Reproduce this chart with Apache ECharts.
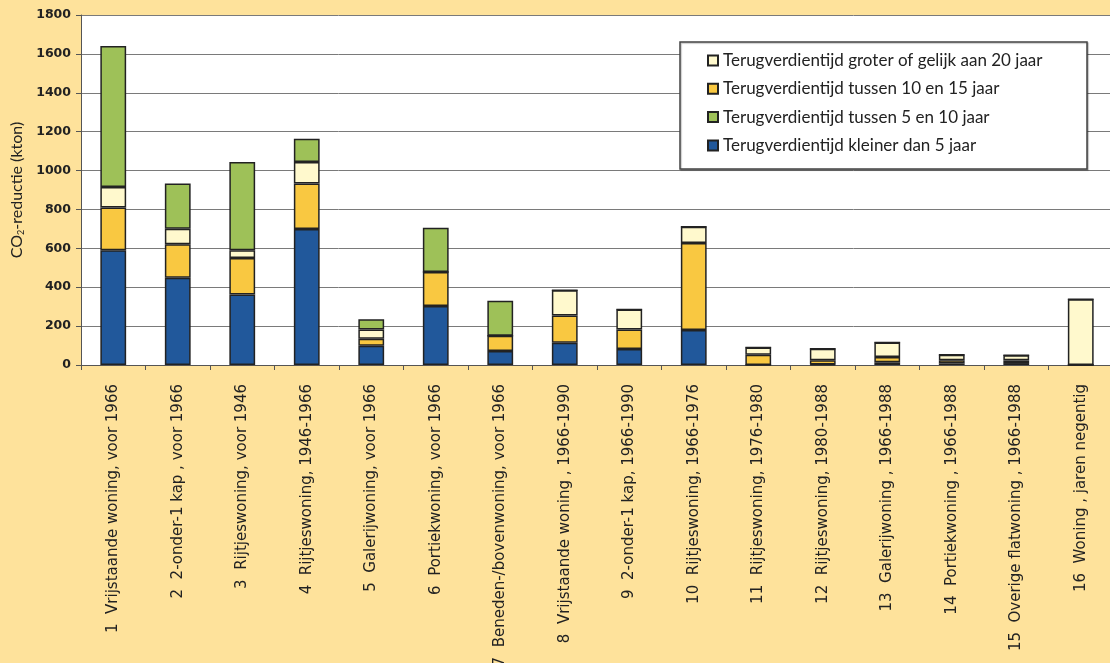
<!DOCTYPE html>
<html>
<head>
<meta charset="utf-8">
<script src="https://cdn.jsdelivr.net/npm/echarts@6/dist/echarts.min.js"></script>
<style>
  html, body { margin: 0; padding: 0; background: #FEE29B; }
  #chart { width: 1110px; height: 663px; }
</style>
</head>
<body>
<div id="chart"></div>
<script>
// Woningtypen
const categories = [
  '1  Vrijstaande woning, voor 1966',
  '2  2-onder-1 kap , voor 1966',
  '3  Rijtjeswoning, voor 1946',
  '4  Rijtjeswoning, 1946-1966',
  '5  Galerijwoning, voor 1966',
  '6  Portiekwoning, voor 1966',
  '7  Beneden-/bovenwoning, voor 1966',
  '8  Vrijstaande woning , 1966-1990',
  '9  2-onder-1 kap, 1966-1990',
  '10  Rijtjeswoning, 1966-1976',
  '11  Rijtjeswoning, 1976-1980',
  '12  Rijtjeswoning, 1980-1988',
  '13  Galerijwoning , 1966-1988',
  '14  Portiekwoning , 1966-1988',
  '15  Overige flatwoning , 1966-1988',
  '16  Woning , jaren negentig'
];

// CO2-reductie (kton) per terugverdientijd, gestapeld van onder naar boven
const kleinerDan5 =   [590, 449, 362, 700,  99, 303,  72, 115,  82, 180,  0,  3, 14,  8, 10,   0];
const tussen10en15 =  [220, 172, 188, 233,  36, 175,  79, 139, 101, 447, 53, 22, 27, 16, 14,   0];
const groter20 =      [105,  80,  40, 111,  47,   0,   0, 130, 102,  84, 37, 59, 75, 29, 26, 338];
const tussen5en10 =   [725, 232, 454, 120,  53, 228, 180,   0,   0,   0,  0,  0,  0,  0,  0,   0];

const yTicks = { min: 0, max: 1800, interval: 200 };

const names = {
  k5: 'Terugverdientijd kleiner dan 5 jaar',
  t1015: 'Terugverdientijd tussen 10 en 15 jaar',
  g20: 'Terugverdientijd groter of gelijk aan 20 jaar',
  t510: 'Terugverdientijd tussen 5 en 10 jaar'
};

const colors = {
  k5: '#21589B',
  t1015: '#F9C841',
  g20: '#FFF9CD',
  t510: '#9EC158'
};

function stackSeries(name, data, color) {
  return {
    name: name,
    type: 'bar',
    stack: 'totaal',
    data: data,
    barWidth: '40%',
    itemStyle: { color: color, borderColor: '#222', borderWidth: 1.5 },
    emphasis: { disabled: true }
  };
}

const chart = echarts.init(document.getElementById('chart'), null, { renderer: 'canvas' });

chart.setOption({
  backgroundColor: '#FEE29B',
  animation: false,
  grid: {
    left: 81,
    top: 15,
    width: 1032,
    height: 350,
    show: true,
    backgroundColor: '#ffffff',
    borderWidth: 0,
    outerBoundsMode: 'none',
    containLabel: false
  },
  graphic: [{
    type: 'rect',
    z: 10,
    shape: { x: 680, y: 42, width: 407, height: 127 },
    style: {
      fill: '#ffffff',
      stroke: '#444',
      lineWidth: 1.5,
      shadowColor: 'rgba(0,0,0,0.25)',
      shadowOffsetX: 1,
      shadowOffsetY: 1,
      shadowBlur: 1
    }
  }],
  legend: {
    z: 20,
    orient: 'vertical',
    left: 707,
    top: 52,
    padding: 0,
    itemGap: 11.3,
    itemWidth: 10,
    itemHeight: 10,
    icon: 'rect',
    data: [names.g20, names.t1015, names.t510, names.k5],
    textStyle: {
      fontFamily: 'Lato',
      fontSize: 17,
      lineHeight: 17,
      color: '#222'
    },
    selectedMode: false
  },
  xAxis: {
    type: 'category',
    data: categories,
    boundaryGap: true,
    axisLine: { show: true, lineStyle: { color: '#555', width: 1 } },
    axisTick: { show: true, length: 5, alignWithLabel: false, lineStyle: { color: '#555' } },
    axisLabel: {
      interval: 0,
      rotate: 90,
      margin: 19,
      fontFamily: 'DejaVu Sans',
      fontSize: 15,
      color: '#222'
    },
    splitLine: { show: false }
  },
  yAxis: {
    type: 'value',
    min: yTicks.min,
    max: yTicks.max,
    interval: yTicks.interval,
    name: '{a|CO}{s|2}{a|-reductie (kton)}',
    nameLocation: 'middle',
    nameGap: 41,
    nameRotate: 90,
    nameTextStyle: {
      rich: {
        a: { fontFamily: 'Lato', fontSize: 16, color: '#222' },
        s: { fontFamily: 'Lato', fontSize: 9, color: '#222', verticalAlign: 'bottom', padding: [8, 0, 0, 0] }
      }
    },
    axisLine: { show: true, lineStyle: { color: '#555', width: 1 } },
    axisTick: { show: true, length: 5, lineStyle: { color: '#555' } },
    axisLabel: {
      margin: 10,
      fontFamily: 'DejaVu Sans',
      fontWeight: 'bold',
      fontSize: 12.5,
      color: '#222',
      formatter: function (v) { return String(v); }
    },
    splitLine: { show: true, lineStyle: { color: '#7a7a7a', width: 1 } }
  },
  series: [
    stackSeries(names.k5, kleinerDan5, colors.k5),
    stackSeries(names.t1015, tussen10en15, colors.t1015),
    stackSeries(names.g20, groter20, colors.g20),
    stackSeries(names.t510, tussen5en10, colors.t510)
  ]
});
</script>
</body>
</html>
